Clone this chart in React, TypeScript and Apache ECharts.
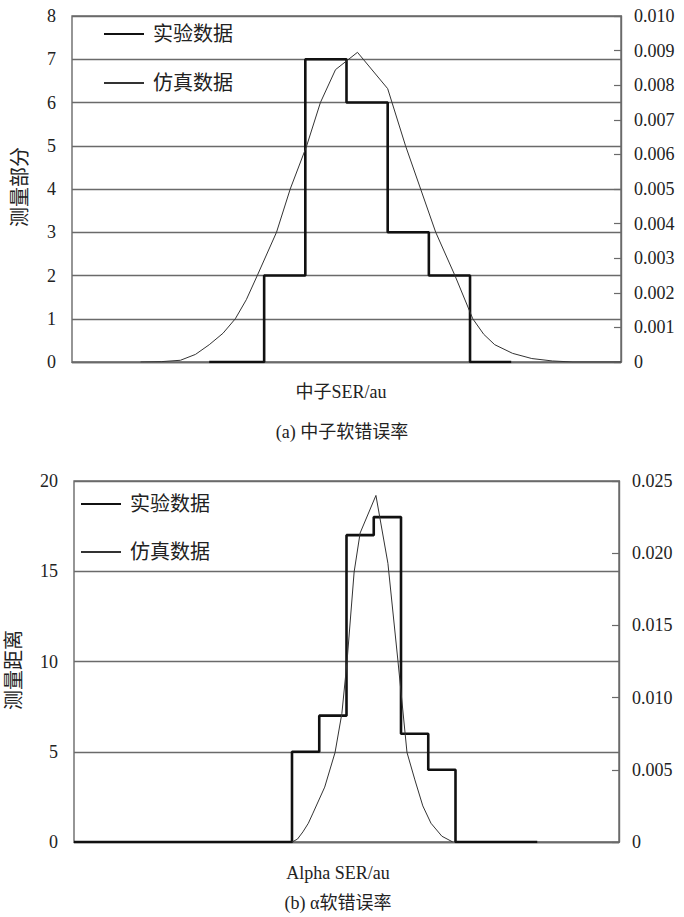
import React, { useEffect, useRef } from "react";
import * as echarts from "echarts";

// ---------- data (a) neutron ----------
const topBinEdges = [10, 14, 17, 20, 23, 26, 29, 32];
const topCounts = [0, 2, 7, 6, 3, 2, 0];
const topSimX = [5, 6.5, 7.9, 9, 10, 11, 11.9, 12.7, 13.5, 14.9, 15.9, 17.1, 18.1, 19.2, 20, 20.8, 23, 24.3, 25.4, 26.5, 27.9, 29.2, 30, 30.8, 32.1, 33.5, 35, 36.5, 40];
const topSimY = [0, 0.00001, 0.00005, 0.00022, 0.0005, 0.00083, 0.00125, 0.0018, 0.0025, 0.00375, 0.005, 0.00625, 0.0075, 0.00845, 0.0087, 0.00895, 0.0079, 0.00625, 0.005, 0.00375, 0.0025, 0.00125, 0.0008, 0.0005, 0.00025, 0.0001, 0.00003, 0, 0];
const topLeftTicks = { min: 0, max: 8, interval: 1 };
const topRightTicks = { min: 0, max: 0.01, interval: 0.001 };

// ---------- data (b) alpha ----------
const botBinEdges = [0, 8, 9, 10, 11, 12, 13, 14, 17];
const botCounts = [0, 5, 7, 17, 18, 6, 4, 0];
const botSimX = [8, 8.2, 8.4, 8.6, 8.77, 9.2, 9.58, 9.83, 10.02, 10.28, 10.5, 11.08, 11.52, 11.89, 12.22, 12.51, 12.8, 13.1, 13.5, 13.9];
const botSimY = [0, 0.0002, 0.0007, 0.0013, 0.002, 0.0038, 0.0062, 0.0089, 0.0125, 0.0187, 0.0214, 0.024, 0.0193, 0.0125, 0.0062, 0.0043, 0.0025, 0.0013, 0.0004, 0];
const botLeftTicks = { min: 0, max: 20, interval: 5 };
const botRightTicks = { min: 0, max: 0.025, interval: 0.005 };

const seriesNames = ["实验数据", "仿真数据"];
const texts = {
  topXName: "中子SER/au",
  topCaption: "(a) 中子软错误率",
  topYName: "测量部分",
  botXName: "Alpha SER/au",
  botCaption: "(b) α软错误率",
  botYName: "测量距离",
};

function stepPoints(edges: number[], counts: number[]) {
  const pts: number[][] = [];
  for (let i = 0; i < counts.length; i++) {
    pts.push([edges[i], counts[i]]);
    pts.push([edges[i + 1], counts[i]]);
  }
  return pts;
}

const SERIF = "Liberation Serif, serif";
const CJK = "Liberation Serif, Noto Sans CJK SC, serif";
const TXT = "#222";
const GRIDC = "#6a6a6a";

function leftFmt(v: number) {
  return `{n|${v}}`;
}
function rightFmt(v: number) {
  if (Math.abs(v) < 1e-12) return "{n|0}";
  return `{n|${v.toFixed(3)}}`;
}

export default function App() {
  const ref = useRef<HTMLDivElement>(null);
  useEffect(() => {
    document.body.style.margin = "0";
    const chart = echarts.init(ref.current!, null, { renderer: "svg" });

    const labelStyle = {
      color: TXT,
      fontSize: 18,
      fontFamily: SERIF,
      rich: { n: { color: TXT, fontSize: 18, fontFamily: SERIF, fontWeight: "normal" } },
    };

    const leftAxis = (gridIndex: number, t: { min: number; max: number; interval: number }) => ({
      type: "value",
      gridIndex,
      position: "left",
      min: t.min,
      max: t.max,
      interval: t.interval,
      axisLine: { show: false },
      axisTick: { show: false },
      axisLabel: { ...labelStyle, margin: 16, formatter: leftFmt },
      splitLine: { show: true, lineStyle: { color: GRIDC, width: 1.4 } },
    });
    const rightAxis = (gridIndex: number, t: { min: number; max: number; interval: number }) => ({
      type: "value",
      gridIndex,
      position: "right",
      min: t.min,
      max: t.max,
      interval: t.interval,
      axisLine: { show: true, lineStyle: { color: GRIDC, width: 1.4 } },
      axisTick: { show: true, inside: true, length: 7, lineStyle: { color: GRIDC, width: 1.2 } },
      axisLabel: { ...labelStyle, margin: 13, formatter: rightFmt },
      splitLine: { show: false },
    });
    const xAxis = (gridIndex: number, max: number) => ({
      type: "value",
      gridIndex,
      min: 0,
      max,
      axisLine: { show: true, lineStyle: { color: GRIDC, width: 1.4 } },
      axisTick: { show: false },
      axisLabel: { show: false },
      splitLine: { show: false },
    });

    const legendCommon = {
      orient: "vertical",
      padding: 0,
      itemWidth: 40,
      itemHeight: 18,
      data: seriesNames,
      selectedMode: false,
      itemStyle: { opacity: 0 },
      textStyle: { color: TXT, fontSize: 20, fontFamily: CJK, padding: [0, 0, 0, 4] },
    };

    const option: any = {
      animation: false,
      backgroundColor: "#fff",
      textStyle: { fontFamily: SERIF },
      grid: [
        { left: 72, top: 16, width: 549, height: 346, show: true, borderColor: GRIDC, borderWidth: 1.4, backgroundColor: "transparent" },
        { left: 74, top: 481, width: 545, height: 361, show: true, borderColor: GRIDC, borderWidth: 1.4, backgroundColor: "transparent" },
      ],
      xAxis: [xAxis(0, 40), xAxis(1, 20)],
      yAxis: [
        leftAxis(0, topLeftTicks),
        rightAxis(0, topRightTicks),
        leftAxis(1, botLeftTicks),
        rightAxis(1, botRightTicks),
      ],
      legend: [
        { ...legendCommon, left: 103, top: 24, itemGap: 29 },
        { ...legendCommon, left: 80, top: 494, itemGap: 28 },
      ],
      series: [
        {
          name: seriesNames[0],
          type: "line",
          xAxisIndex: 0,
          yAxisIndex: 0,
          data: stepPoints(topBinEdges, topCounts),
          symbol: "none",
          lineStyle: { color: "#111", width: 2.6 },
          itemStyle: { color: "#111" },
          z: 3,
        },
        {
          name: seriesNames[1],
          type: "line",
          xAxisIndex: 0,
          yAxisIndex: 1,
          data: topSimX.map((x, i) => [x, topSimY[i]]),
          symbol: "none",
          lineStyle: { color: "#333", width: 1 },
          itemStyle: { color: "#333" },
          z: 4,
        },
        {
          name: seriesNames[0],
          type: "line",
          xAxisIndex: 1,
          yAxisIndex: 2,
          data: stepPoints(botBinEdges, botCounts),
          symbol: "none",
          lineStyle: { color: "#111", width: 2.6 },
          itemStyle: { color: "#111" },
          z: 3,
        },
        {
          name: seriesNames[1],
          type: "line",
          xAxisIndex: 1,
          yAxisIndex: 3,
          data: botSimX.map((x, i) => [x, botSimY[i]]),
          symbol: "none",
          lineStyle: { color: "#333", width: 1 },
          itemStyle: { color: "#333" },
          z: 4,
        },
      ],
      graphic: [
        { type: "text", x: 341, y: 392, style: { text: texts.topXName, fill: TXT, font: `18px ${CJK}`, textAlign: "center", textVerticalAlign: "middle" } },
        { type: "text", x: 342, y: 432, style: { text: texts.topCaption, fill: TXT, font: `18px ${CJK}`, textAlign: "center", textVerticalAlign: "middle" } },
        { type: "text", x: 20, y: 187, rotation: Math.PI / 2, style: { text: texts.topYName, fill: TXT, font: `20px ${CJK}`, textAlign: "center", textVerticalAlign: "middle" } },
        { type: "text", x: 338, y: 873, style: { text: texts.botXName, fill: TXT, font: `18px ${CJK}`, textAlign: "center", textVerticalAlign: "middle" } },
        { type: "text", x: 338, y: 903, style: { text: texts.botCaption, fill: TXT, font: `18px ${CJK}`, textAlign: "center", textVerticalAlign: "middle" } },
        { type: "text", x: 14, y: 670, rotation: Math.PI / 2, style: { text: texts.botYName, fill: TXT, font: `20px ${CJK}`, textAlign: "center", textVerticalAlign: "middle" } },
      ],
    };
    chart.setOption(option);
    return () => chart.dispose();
  }, []);
  return <div ref={ref} style={{ width: 684, height: 917 }} />;
}
